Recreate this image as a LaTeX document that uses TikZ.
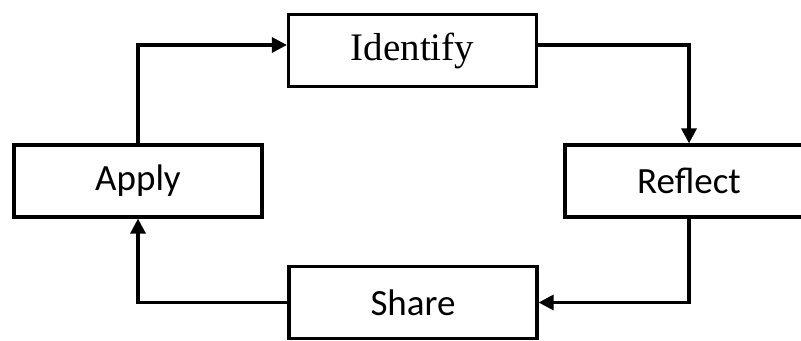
\documentclass[tikz,border=0pt]{standalone}
\usepackage{fontspec}
\setmainfont{Liberation Serif}
\newfontfamily\calibri{Carlito}
\usetikzlibrary{arrows.meta}
\tikzset{
	kasten/.style={draw, line width=1.6pt, minimum width=124pt, minimum height=36pt, inner sep=0pt},
	pfeil/.style={-{Triangle[length=7.5pt,width=7.5pt]}, line width=1.6pt},
	serif/.style={font=\fontsize{19.5}{22}\selectfont},
	sans/.style={font=\calibri\fontsize{18.5}{21}\selectfont}
}
\begin{document}
\begin{tikzpicture}[x=0.5pt, y=-0.5pt]
\useasboundingbox (0,0) rectangle (801,341);
% Kaesten
\node[kasten, serif] (identify) at (412.5,50.5) {Identify};
\node[kasten, sans] (apply) at (138,181) {Apply};
\node[kasten, sans] (reflect) at (689,181) {Reflect};
\node[kasten, sans] (share) at (413,302.5) {Share};

% Anschlusspunkte oben
\coordinate (idin) at ([yshift=2.75pt]identify.west);
\coordinate (idout) at ([yshift=2.75pt]identify.east);

% Pfeile im Kreis
\draw[pfeil] (apply.north) |- (idin);
\draw[pfeil] (idout) -| (reflect.north);
\draw[pfeil] (reflect.south) |- (share.east);
\draw[pfeil] (share.west) -| (apply.south);
\end{tikzpicture}
\end{document}
